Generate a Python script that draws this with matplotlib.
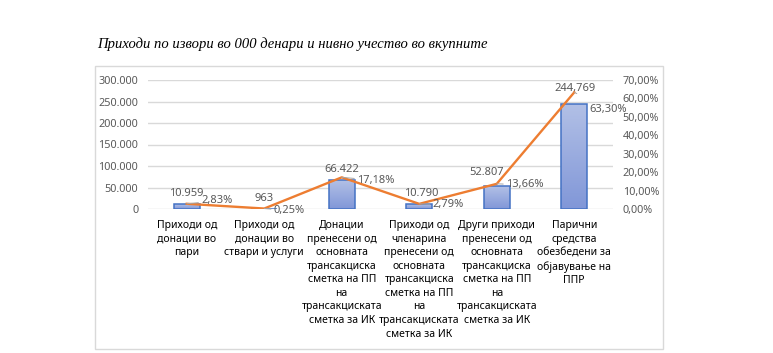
import matplotlib.pyplot as plt
import matplotlib.patches as mpatches
from matplotlib.colors import LinearSegmentedColormap
import numpy as np
from matplotlib.ticker import FuncFormatter

# data
CATEGORIES = [
    "Приходи од\nдонации во\nпари",
    "Приходи од\nдонации во\nствари и услуги",
    "Донации\nпренесени од\nосновната\nтрансакциска\nсметка на ПП\nна\nтрансакциската\nсметка за ИК",
    "Приходи од\nчленарина\nпренесени од\nосновната\nтрансакциска\nсметка на ПП\nна\nтрансакциската\nсметка за ИК",
    "Други приходи\nпренесени од\nосновната\nтрансакциска\nсметка на ПП\nна\nтрансакциската\nсметка за ИК",
    "Парични\nсредства\nобезбедени за\nобјавување на\nППР",
]
AMOUNTS = [10959, 963, 66422, 10790, 52807, 244769]
AMOUNT_LABELS = ["10.959", "963", "66.422", "10.790", "52.807", "244,769"]
SHARES = [2.83, 0.25, 17.18, 2.79, 13.66, 63.30]
SHARE_LABELS = ["2,83%", "0,25%", "17,18%", "2,79%", "13,66%", "63,30%"]

TITLE = "Приходи по извори во 000 денари и нивно учество во вкупните"

GRAY = "#595959"
GRID = "#D9D9D9"
ORANGE = "#ED7D31"
FONT = "Noto Sans"

W, H = 773, 353
fig = plt.figure(figsize=(W / 100, H / 100), dpi=100)


def fx(px):
    return px / W


def fy(py):
    return 1 - py / H


# chart frame
fig.patches.append(mpatches.Rectangle((fx(95), fy(349)), fx(663) - fx(95), fy(66) - fy(349),
                                      transform=fig.transFigure, fill=False,
                                      edgecolor=GRID, linewidth=1.0))

fig.text(fx(97), fy(44), TITLE, fontsize=10.5, family="Liberation Serif",
         style="italic", va="center", ha="left", color="black")

ax = fig.add_axes([fx(148), fy(209), fx(613) - fx(148), fy(80) - fy(209)])
ax2 = ax.twinx()

x = np.arange(len(CATEGORIES))
bars = ax.bar(x, AMOUNTS, width=0.33, color="#9DB1E0", linewidth=0, zorder=3)
# outline drawn on top of the gradient
ax.bar(x, AMOUNTS, width=0.33, fill=False, edgecolor="#4472C4", linewidth=1.1, zorder=3.5)

# vertical gradient inside the bars (lighter at top)
cmap = LinearSegmentedColormap.from_list("g", ["#8197D8", "#B2C0E6"])
grad = np.linspace(0, 1, 100).reshape(-1, 1)
for b in bars:
    bx, by = b.get_x(), b.get_y()
    bw, bh = b.get_width(), b.get_height()
    im = ax.imshow(grad, cmap=cmap, extent=(bx, bx + bw, by, by + bh),
                   origin="lower", aspect="auto", zorder=3.2)
    im.set_clip_path(b)

ax.set_xlim(-0.5, len(CATEGORIES) - 0.5)
ax.set_ylim(0, 300000)
ax.set_yticks(np.arange(0, 300001, 50000))
ax.yaxis.set_major_formatter(FuncFormatter(lambda v, p: f"{int(v):,}".replace(",", ".")))
ax.grid(axis="y", color=GRID, linewidth=1.0, zorder=0)
ax.set_axisbelow(True)
ax.set_xticks(x)
ax.set_xticklabels(CATEGORIES, fontsize=7.5, family=FONT, color="black",
                   linespacing=1.32, va="top")
ax.tick_params(axis="x", length=0, pad=8)
ax.tick_params(axis="y", length=0, labelsize=7.8, labelcolor=GRAY, pad=7)
for s in ax.spines.values():
    s.set_visible(False)
for lbl in ax.get_yticklabels():
    lbl.set_family(FONT)

ax2.plot(x, SHARES, color=ORANGE, linewidth=1.7, zorder=4)
ax2.set_ylim(0, 70)
ax2.set_yticks(np.arange(0, 71, 10))
ax2.yaxis.set_major_formatter(FuncFormatter(lambda v, p: f"{v:.2f}%".replace(".", ",")))
ax2.tick_params(axis="y", length=0, labelsize=7.8, labelcolor=GRAY, pad=7)
for s in ax2.spines.values():
    s.set_visible(False)
for lbl in ax2.get_yticklabels():
    lbl.set_family(FONT)

# bar value labels (offsets in pixels)
bar_off = [(0, 11), (0, 10), (0, 11), (2, 11), (-10, 14), (1, 15)]
for i, (v, t) in enumerate(zip(AMOUNTS, AMOUNT_LABELS)):
    ax.annotate(t, (x[i], v), xytext=bar_off[i], textcoords="offset pixels",
                ha="center", va="center", fontsize=8, color=GRAY, family=FONT, zorder=6)

# share labels with leader lines
pct_off = [(30, 3), (25, -2), (34, -3), (29, -1), (28, -1), (34, -17)]
for i, (v, t) in enumerate(zip(SHARES, SHARE_LABELS)):
    ax2.annotate(t, (x[i], v), xytext=pct_off[i], textcoords="offset pixels",
                 ha="center", va="center", fontsize=8, color=GRAY, family=FONT, zorder=6,
                 arrowprops=dict(arrowstyle="-", color="#A6A6A6", linewidth=0.7,
                                 shrinkA=12, shrinkB=0))

fig.savefig("out.png", dpi=100)
